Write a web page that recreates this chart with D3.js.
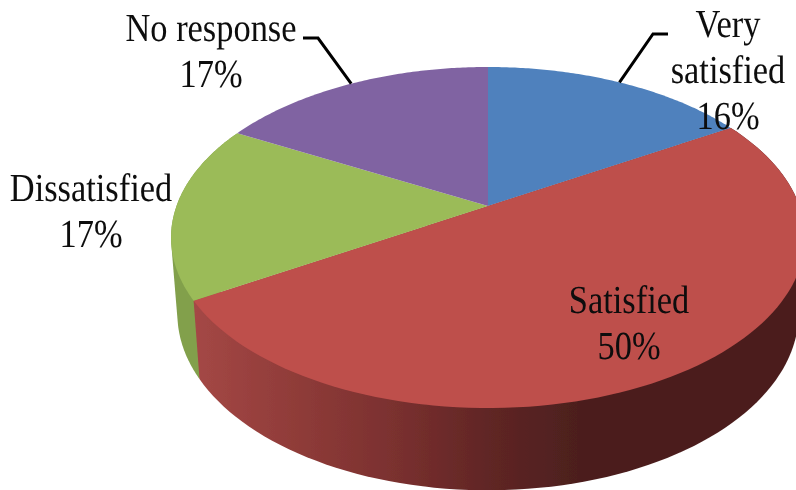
<!DOCTYPE html>
<html><head><meta charset="utf-8">
<script src="https://cdn.jsdelivr.net/npm/d3@7"></script>
<style>html,body{margin:0;padding:0;background:#fff}svg{display:block}text{font-family:"Liberation Serif",serif;fill:#0c0c0c;text-rendering:geometricPrecision}</style>
</head><body><svg id="c" width="796" height="490"></svg>
<script>
const categories = ["Very satisfied","Satisfied","Dissatisfied","No response"];
const values = [16.3,50,16.7,17];
const colors = ["#4f81bd","#be4f4c","#9bbb59","#8064a2"];

const apexX=488, apexY=206;
const k=0.1848, B=311.5, A=164.7;
const bx=0.98, by=1.036, dy=75;
function project(a){const u=Math.sin(a),v=-Math.cos(a),d=1-k*v;return [B*u/d, A*v/d];}
const topPt=a=>{const p=project(a);return [apexX+p[0],apexY+p[1]];};
const botPt=a=>{const p=project(a);return [apexX+p[0]*bx,apexY+p[1]*by+dy];};
const svg=d3.select("#c");
const defs=svg.append("defs");
defs.append("filter").attr("id","soft").attr("x","-5%").attr("y","-5%").attr("width","110%").attr("height","110%")
  .append("feGaussianBlur").attr("stdDeviation",0.55);
const g0=svg.append("g").attr("filter","url(#soft)");
function grad(id,stops){
  const g=defs.append("linearGradient").attr("id",id).attr("gradientUnits","userSpaceOnUse")
    .attr("x1",190).attr("x2",600).attr("y1",0).attr("y2",0);
  stops.forEach(s=>g.append("stop").attr("offset",s[0]).attr("stop-color",s[1]));
}
grad("redSide",[[0,"#a54846"],[0.25,"#903c39"],[0.5,"#7a302f"],[0.75,"#5e2524"],[0.95,"#4c1f1e"],[1,"#4b1e1d"]]);

const arcs=d3.pie().sort(null).value(d=>d)(values);
const line=d3.line();
const samples=(a0,a1)=>d3.range(0,101).map(i=>a0+(a1-a0)*i/100);

// side walls: the convex hull of each wall's top and bottom rims keeps the silhouette smooth
const sideFill=[null,"url(#redSide)","#82a04c",null];
[2,1].forEach(i=>{
  const s=arcs[i], ang=samples(s.startAngle,s.endAngle);
  const pts=d3.polygonHull(ang.map(topPt).concat(ang.map(botPt)));
  g0.append("path").attr("d",line(pts)+"Z").attr("fill",sideFill[i]);
});
// top faces
arcs.forEach((s,i)=>{
  const pts=[[apexX,apexY]].concat(samples(s.startAngle,s.endAngle).map(topPt));
  g0.append("path").attr("d",line(pts)+"Z").attr("fill",colors[i]);
});
// leader lines
[[0,[[668,34],[653,34]]],[3,[[303,38],[318,38]]]].forEach(([i,pts])=>{
  const mid=(arcs[i].startAngle+arcs[i].endAngle)/2;
  g0.append("path").attr("d",line(pts.concat([topPt(mid)]))).attr("fill","none").attr("stroke","#000").attr("stroke-width",3);
});
// labels
const labelLines=[["Very","satisfied"],["Satisfied"],["Dissatisfied"],["No response"]];
const labelPos=[[728,37],[629,313],[91,201],[211,41]];
labelLines.forEach((ls,i)=>{
  ls.concat([Math.round(values[i])+"%"]).forEach((t,j)=>{
    g0.append("text").attr("text-anchor","middle")
      .attr("transform",`translate(${labelPos[i][0]},${labelPos[i][1]+j*46}) scale(1,1.155)`)
      .attr("font-size",34.4).text(t);
  });
});
</script></body></html>
